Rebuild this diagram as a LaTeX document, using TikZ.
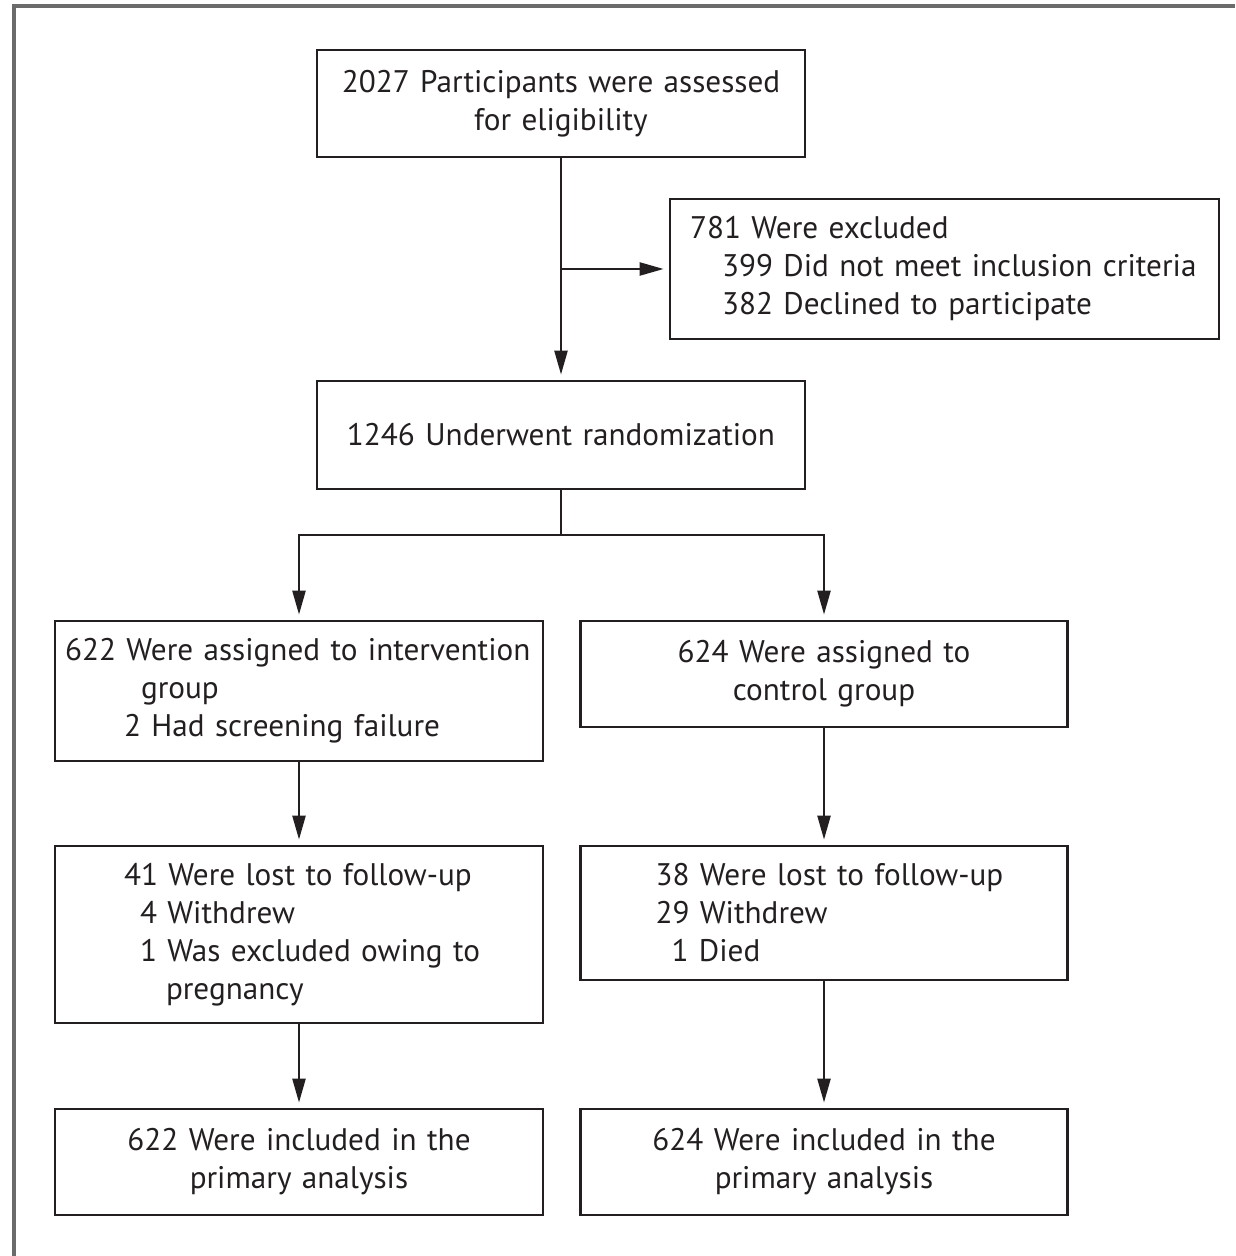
\documentclass[tikz,border=0pt]{standalone}
\usepackage{fontspec}
\setmainfont{PT Sans}
\usetikzlibrary{arrows.meta}
\definecolor{ink}{HTML}{231F20}
\definecolor{framegray}{HTML}{6B6B6B}

\begin{document}
\begin{tikzpicture}[x=0.5pt, y=-0.5pt, font=\fontsize{15.6}{19}\selectfont,
  box/.style={draw=ink, line width=1.4pt, text=ink, inner xsep=5pt, inner ysep=0pt, minimum height=#1},
  conn/.style={draw=ink, line width=1.2pt},
  arr/.style={conn, -{Triangle[length=12pt, width=6.5pt]}, shorten >=2.5pt}]
  \useasboundingbox (0,0) rectangle (1235,1256);
  % frame
  \draw[framegray, line width=2.2pt] (14,1256) |- (1235,6);
  % enrollment
  \node[box=53.5pt, text width=234pt, align=center] (elig) at (561,103.5)
    {2027 Participants were assessed\\for eligibility};
  \node[box=70pt, text width=264.5pt, align=left] (excl) at (944.5,269)
    {\hspace*{5pt}781 Were excluded\\
     \hspace*{21pt}399 Did not meet inclusion criteria\\
     \hspace*{21pt}382 Declined to participate};
  \node[box=54pt, text width=234pt, align=center] (rand) at (561,435)
    {1246 Underwent randomization};
  % allocation
  \node[box=70pt, text width=234pt, align=left] (interv) at (299,691)
    {622 Were assigned to intervention\\
     \hspace*{38pt}group\\
     \hspace*{29.5pt}2 Had screening failure};
  \node[box=53pt, text width=233.5pt, align=center] (ctrl) at (824,674)
    {624 Were assigned to\\control group};
  % follow-up
  \node[box=88.5pt, text width=234pt, align=left] (lostL) at (299,934.5)
    {\hspace*{29.5pt}41 Were lost to follow-up\\
     \hspace*{37.5pt}4 Withdrew\\
     \hspace*{37.5pt}1 Was excluded owing to\\
     \hspace*{50.5pt}pregnancy};
  \node[box=67pt, text width=233.5pt, align=left] (lostR) at (824,913)
    {\hspace*{32.5pt}38 Were lost to follow-up\\
     \hspace*{32.5pt}29 Withdrew\\
     \hspace*{40.5pt}1 Died};
  % analysis
  \node[box=53pt, text width=234pt, align=center] (inclL) at (299,1162)
    {622 Were included in the\\primary analysis};
  \node[box=53pt, text width=233.5pt, align=center] (inclR) at (824,1162)
    {624 Were included in the\\primary analysis};
  % connectors
  \coordinate (fork) at (561,535);
  \draw[arr] (elig.south) -- (rand.north);
  \draw[arr] (elig.south |- excl.west) -- (excl.west);
  \draw[conn] (rand.south) -- (fork);
  \draw[arr] (fork) -| (interv.north);
  \draw[arr] (fork) -| (ctrl.north);
  \foreach \a/\b in {interv/lostL, lostL/inclL, ctrl/lostR, lostR/inclR}
    \draw[arr] (\a.south) -- (\b.north);
\end{tikzpicture}
\end{document}
